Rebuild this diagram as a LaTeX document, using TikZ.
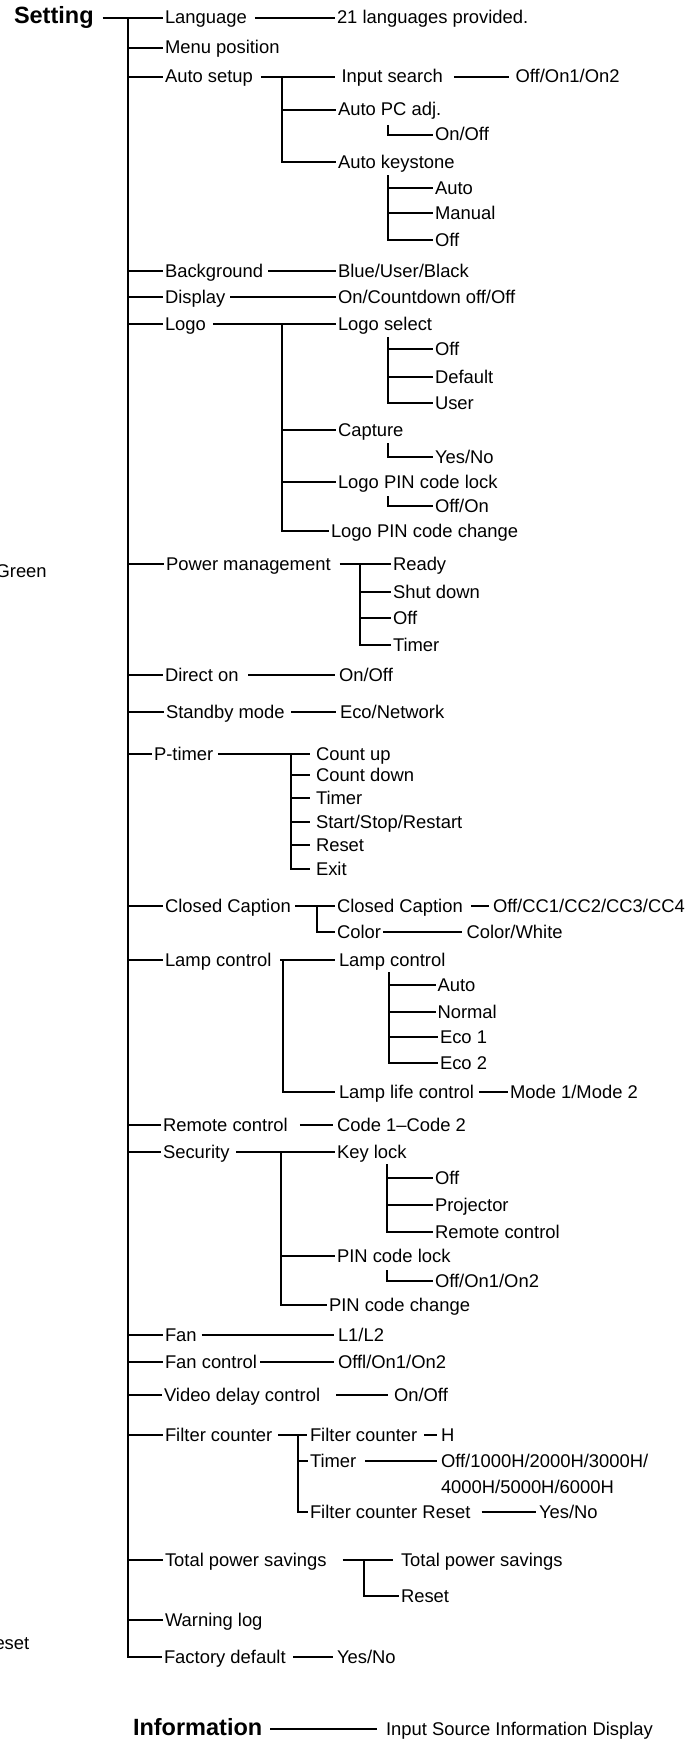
\documentclass[tikz,border=0pt]{standalone}
\usepackage{fontspec}
\setmainfont{Liberation Sans}
\begin{document}
\begin{tikzpicture}[x=1pt,y=-1pt,
  lbl/.style={anchor=west, inner sep=0pt, outer xsep=2pt, outer ysep=0pt, text height=12pt, text depth=0pt, font=\fontsize{18.4}{20}\selectfont},
  head/.style={lbl, font=\fontsize{23.5}{26}\selectfont\bfseries},
  ln/.style={line width=1.5pt, line cap=butt}
]
\useasboundingbox (0,0) rectangle (700,1742);

% cut-off texts at the left edge
\node[lbl, anchor=east] (green) at (48.7,571) {Green};
\node[lbl, anchor=east] (resetcut) at (31.3,1643) {Reset};

% root
\node[head] (setting) at (12,18) {Setting};
\coordinate (T) at (128,18);

% main items
\node[lbl] (lang) at (163,18) {Language};
\node[lbl] (langv) at (335,18) {21 languages provided.};
\node[lbl] (menu) at (163,48) {Menu position};
\node[lbl] (auto) at (163,77) {Auto setup};
\node[lbl] (insrch) at (339.5,77) {Input search};
\node[lbl] (insrchv) at (513.6,77) {Off/On1/On2};
\node[lbl] (apc) at (336,110) {Auto PC adj.};
\node[lbl] (apcv) at (433,135) {On/Off};
\node[lbl] (akey) at (336,162) {Auto keystone};
\node[lbl] (akauto) at (433,188) {Auto};
\node[lbl] (akman) at (433,213) {Manual};
\node[lbl] (akoff) at (433,240) {Off};
\node[lbl] (bg) at (163,271) {Background};
\node[lbl] (bgv) at (336,271) {Blue/User/Black};
\node[lbl] (disp) at (163,297) {Display};
\node[lbl] (dispv) at (336,297) {On/Countdown off/Off};
\node[lbl] (logo) at (163,324) {Logo};
\node[lbl] (lsel) at (336,324) {Logo select};
\node[lbl] (lsoff) at (433,349) {Off};
\node[lbl] (lsdef) at (433,377) {Default};
\node[lbl] (lsuser) at (433,403) {User};
\node[lbl] (capt) at (336,430) {Capture};
\node[lbl] (captv) at (433,457) {Yes/No};
\node[lbl] (lpin) at (336,482) {Logo PIN code lock};
\node[lbl] (lpinv) at (433,506) {Off/On};
\node[lbl] (lpinc) at (329,531) {Logo PIN code change};
\node[lbl] (pm) at (164,564) {Power management};
\node[lbl] (pmready) at (391,564) {Ready};
\node[lbl] (pmshut) at (391,592) {Shut down};
\node[lbl] (pmoff) at (391,618) {Off};
\node[lbl] (pmtimer) at (391,645) {Timer};
\node[lbl] (don) at (163,675) {Direct on};
\node[lbl] (donv) at (337,675) {On/Off};
\node[lbl] (stby) at (164,712) {Standby mode};
\node[lbl] (stbyv) at (338,712) {Eco/Network};
\node[lbl] (pt) at (152,754) {P-timer};
\node[lbl] (ptup) at (314,754) {Count up};
\node[lbl] (ptdown) at (314,775) {Count down};
\node[lbl] (pttimer) at (314,798) {Timer};
\node[lbl] (ptstart) at (314,822) {Start/Stop/Restart};
\node[lbl] (ptreset) at (314,845) {Reset};
\node[lbl] (ptexit) at (314,869) {Exit};
\node[lbl] (cc) at (163,906) {Closed Caption};
\node[lbl] (ccsub) at (335,906) {Closed Caption};
\node[lbl] (ccsubv) at (491,906) {Off/CC1/CC2/CC3/CC4};
\node[lbl] (cccol) at (335,932) {Color};
\node[lbl] (cccolv) at (464.5,932) {Color/White};
\node[lbl] (lc) at (163,960) {Lamp control};
\node[lbl] (lcsub) at (337,960) {Lamp control};
\node[lbl] (lcauto) at (435.5,985) {Auto};
\node[lbl] (lcnorm) at (435.5,1012) {Normal};
\node[lbl] (lceco1) at (438,1037) {Eco 1};
\node[lbl] (lceco2) at (438,1063) {Eco 2};
\node[lbl] (llc) at (337,1092) {Lamp life control};
\node[lbl] (llcv) at (508,1092) {Mode 1/Mode 2};
\node[lbl] (rc) at (161,1125) {Remote control};
\node[lbl] (rcv) at (335,1125) {Code 1–Code 2};
\node[lbl] (sec) at (161,1152) {Security};
\node[lbl] (klock) at (335,1152) {Key lock};
\node[lbl] (kloff) at (433,1178) {Off};
\node[lbl] (klproj) at (433,1205) {Projector};
\node[lbl] (klrc) at (433,1232) {Remote control};
\node[lbl] (pin) at (335,1256) {PIN code lock};
\node[lbl] (pinv) at (433,1281) {Off/On1/On2};
\node[lbl] (pinc) at (327,1305) {PIN code change};
\node[lbl] (fan) at (163,1335) {Fan};
\node[lbl] (fanv) at (336,1335) {L1/L2};
\node[lbl] (fanc) at (163,1362) {Fan control};
\node[lbl] (fancv) at (336,1362) {Offl/On1/On2};
\node[lbl] (vdc) at (162,1395) {Video delay control};
\node[lbl] (vdcv) at (392,1395) {On/Off};
\node[lbl] (fc) at (163,1435) {Filter counter};
\node[lbl] (fcsub) at (308,1435) {Filter counter};
\node[lbl] (fcsubv) at (439,1435) {H};
\node[lbl] (fct) at (308,1461) {Timer};
\node[lbl] (fctv) at (439,1461) {Off/1000H/2000H/3000H/};
\node[lbl] (fctv2) at (439,1487) {4000H/5000H/6000H};
\node[lbl] (fcr) at (308,1512) {Filter counter Reset};
\node[lbl] (fcrv) at (537,1512) {Yes/No};
\node[lbl] (tps) at (163,1560) {Total power savings};
\node[lbl] (tpssub) at (399,1560) {Total power savings};
\node[lbl] (tpsreset) at (399,1596) {Reset};
\node[lbl] (wlog) at (163,1620) {Warning log};
\node[lbl] (fd) at (162,1657) {Factory default};
\node[lbl] (fdv) at (335,1657) {Yes/No};
\node[head] (info) at (131,1729) {Information};
\node[lbl] (infov) at (384,1729) {Input Source Information Display};

% main trunk
\draw[ln] ([xshift=7]setting.east) -- (lang.west);
\draw[ln] (T) |- (fd.west);
\foreach \n in {menu,auto,bg,disp,logo,pm,don,stby,pt,cc,lc,rc,sec,fan,fanc,vdc,fc,tps,wlog}
  \draw[ln] (T |- \n.west) -- (\n.west);

% Language
\draw[ln] ([xshift=6]lang.east) -- (langv.west);

% Auto setup
\coordinate (A) at (282,77);
\draw[ln, shorten >=4.5pt] ([xshift=6]auto.east) -- (insrch.west);
\draw[ln] (A) |- (akey.west);
\draw[ln] (A |- apc.west) -- (apc.west);
\draw[ln, shorten >=4.6pt] ([xshift=9]insrch.east) -- (insrchv.west);
\coordinate (A1) at (388,125);
\draw[ln] (A1) |- (apcv.west);
\coordinate (A2) at (388,175);
\draw[ln] (A2) |- (akoff.west);
\draw[ln] (A2 |- akauto.west) -- (akauto.west);
\draw[ln] (A2 |- akman.west) -- (akman.west);

% Background, Display
\draw[ln] ([xshift=3]bg.east) -- (bgv.west);
\draw[ln] ([xshift=3]disp.east) -- (dispv.west);

% Logo
\draw[ln] ([xshift=5]logo.east) -- (lsel.west);
\coordinate (L) at (282,324);
\draw[ln] (L) |- (lpinc.west);
\draw[ln] (L |- capt.west) -- (capt.west);
\draw[ln] (L |- lpin.west) -- (lpin.west);
\coordinate (L1) at (388,337);
\draw[ln] (L1) |- (lsuser.west);
\draw[ln] (L1 |- lsoff.west) -- (lsoff.west);
\draw[ln] (L1 |- lsdef.west) -- (lsdef.west);
\coordinate (L2) at (388,443);
\draw[ln] (L2) |- (captv.west);
\coordinate (L3) at (388,496);
\draw[ln] (L3) |- (lpinv.west);

% Power management
\draw[ln] ([xshift=7]pm.east) -- (pmready.west);
\coordinate (P) at (360,564);
\draw[ln] (P) |- (pmtimer.west);
\draw[ln] (P |- pmshut.west) -- (pmshut.west);
\draw[ln] (P |- pmoff.west) -- (pmoff.west);

% Direct on, Standby
\draw[ln, shorten >=2pt] ([xshift=7.7]don.east) -- (donv.west);
\draw[ln, shorten >=2pt] ([xshift=4.7]stby.east) -- (stbyv.west);

% P-timer
\draw[ln, shorten >=4pt] ([xshift=2.7]pt.east) -- (ptup.west);
\coordinate (PT) at (291,754);
\draw[ln, shorten >=4pt] (PT) |- (ptexit.west);
\foreach \n in {ptdown,pttimer,ptstart,ptreset}
  \draw[ln, shorten >=4pt] (PT |- \n.west) -- (\n.west);

% Closed Caption
\draw[ln] ([xshift=2.6]cc.east) -- (ccsub.west);
\coordinate (C) at (317,906);
\draw[ln] (C) |- (cccol.west);
\draw[ln, shorten >=2pt] ([xshift=6]ccsub.east) -- (ccsubv.west);
\draw[ln, shorten >=2.5pt] ([xshift=0.3]cccol.east) -- (cccolv.west);

% Lamp control
\draw[ln, shorten >=2pt] ([xshift=7]lc.east) -- (lcsub.west);
\coordinate (LC) at (283,960);
\draw[ln, shorten >=2pt] (LC) |- (llc.west);
\coordinate (LC1) at (389,972);
\draw[ln] (LC1) |- (lceco2.west);
\foreach \n in {lcauto,lcnorm,lceco1}
  \draw[ln] (LC1 |- \n.west) -- (\n.west);
\draw[ln] ([xshift=3]llc.east) -- (llcv.west);

% Remote control
\draw[ln, shorten >=2.4pt] ([xshift=10]rc.east) -- (rcv.west);

% Security
\draw[ln] ([xshift=4.6]sec.east) -- (klock.west);
\coordinate (S) at (281,1152);
\draw[ln] (S) |- (pinc.west);
\draw[ln] (S |- pin.west) -- (pin.west);
\coordinate (S1) at (387,1164);
\draw[ln] (S1) |- (klrc.west);
\draw[ln] (S1 |- kloff.west) -- (kloff.west);
\draw[ln] (S1 |- klproj.west) -- (klproj.west);
\coordinate (S2) at (387,1270);
\draw[ln] (S2) |- (pinv.west);

% Fan
\draw[ln, shorten >=2pt] ([xshift=3]fan.east) -- (fanv.west);
\draw[ln, shorten >=2pt] ([xshift=1.3]fanc.east) -- (fancv.west);

% Video delay control
\draw[ln, shorten >=4.5pt] ([xshift=14]vdc.east) -- (vdcv.west);

% Filter counter
\draw[ln, shorten >=1pt] ([xshift=4]fc.east) -- (fcsub.west);
\coordinate (F) at (298,1435);
\draw[ln] (F) |- (fcr.west);
\draw[ln] (F |- fct.west) -- (fct.west);
\draw[ln, shorten >=2.4pt] ([xshift=5]fcsub.east) -- (fcsubv.west);
\draw[ln, shorten >=2.4pt] ([xshift=7]fct.east) -- (fctv.west);
\draw[ln, shorten >=1.3pt] ([xshift=9]fcr.east) -- (fcrv.west);

% Total power savings
\draw[ln, shorten >=6pt] ([xshift=14]tps.east) -- (tpssub.west);
\coordinate (TP) at (364,1560);
\draw[ln] (TP) |- (tpsreset.west);

% Factory default
\draw[ln, shorten >=2.4pt] ([xshift=5.6]fd.east) -- (fdv.west);

% Information
\draw[ln, shorten >=7pt] ([xshift=6]info.east) -- (infov.west);
\end{tikzpicture}
\end{document}
